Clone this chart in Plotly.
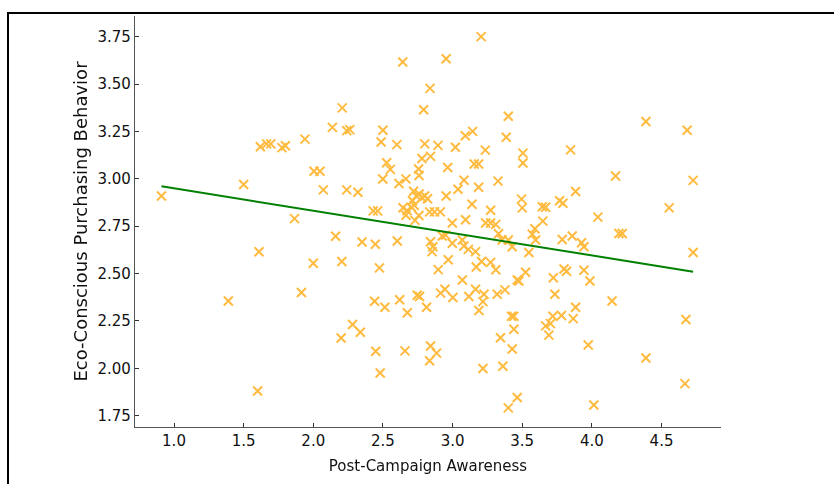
import plotly.graph_objects as go

# Post-Campaign Awareness (x) and Eco-Conscious Purchasing Behavior (y)
awareness = [
    0.91, 1.39, 1.50, 1.60, 1.61, 1.62, 1.665, 1.695, 1.775, 1.80,
    1.865, 1.915, 1.94, 2.00, 2.005, 2.048, 2.072, 2.137, 2.16, 2.20,
    2.205, 2.208, 2.24, 2.262, 2.24, 2.282, 2.32, 2.338, 2.35, 2.43,
    2.462, 2.445, 2.44, 2.448, 2.475, 2.48,
    3.205, 2.642, 2.954, 2.838, 2.792, 2.50, 2.487, 2.60, 2.80, 2.895,
    3.02, 3.091, 3.144, 3.235, 2.527, 2.553, 2.499, 2.78, 2.842, 2.756,
    2.759, 2.965, 3.155, 3.187, 2.615, 2.665, 3.082, 3.039, 3.187, 3.326,
    2.72, 2.74, 2.76, 2.78, 2.80, 2.82, 2.712, 2.725, 2.954, 3.139,
    2.644, 2.673, 2.665, 2.705, 2.758, 2.73, 2.835, 2.87, 2.912, 2.998,
    3.093, 3.273, 3.237, 3.273, 2.95, 2.603, 2.842, 2.858, 2.853, 2.926,
    2.998, 3.07, 3.081, 3.113, 3.165, 3.208, 3.17, 3.273, 2.969, 2.897,
    3.07, 2.945, 2.914, 3.002, 2.746, 2.763, 2.62, 2.514, 2.675, 2.813,
    3.117, 3.165, 3.225, 3.218, 3.189, 2.658, 2.842, 2.885, 2.835, 3.218,
    3.31, 3.33, 3.31,
    3.40, 3.385, 3.505, 3.505, 3.847, 4.17, 3.883, 3.495, 3.50, 3.644,
    3.668, 3.768, 3.792, 4.043, 3.648, 3.591, 3.572, 3.596, 3.356, 3.40,
    3.428, 3.548, 3.787, 3.859, 3.926, 3.943, 3.524, 3.464, 3.476, 3.80,
    3.818, 3.943, 3.986, 3.723, 3.734, 3.32, 3.376, 4.145, 3.423, 3.44,
    3.44, 3.344, 3.428, 3.883, 3.866, 3.782, 3.72, 3.703, 3.668, 3.691,
    3.974, 3.361, 3.464, 3.40, 4.014,
    4.388, 4.684, 4.727, 4.555, 4.194, 4.218, 4.727, 4.675, 4.388, 4.668,
]
purchasing = [
    2.91, 2.355, 2.97, 1.88, 2.615, 3.17, 3.185, 3.185, 3.165, 3.175,
    2.79, 2.40, 3.21, 2.555, 3.04, 3.04, 2.942, 3.272, 2.697, 2.16,
    2.564, 3.375, 3.255, 3.26, 2.942, 2.231, 2.929, 2.19, 2.667, 2.831,
    2.831, 2.655, 2.354, 2.09, 2.53, 1.975,
    3.751, 3.617, 3.634, 3.478, 3.365, 3.257, 3.195, 3.181, 3.185, 3.177,
    3.167, 3.228, 3.251, 3.152, 3.085, 3.05, 2.999, 3.108, 3.119, 3.052,
    3.018, 3.06, 3.079, 3.079, 2.976, 3.0, 2.993, 2.945, 2.956, 2.988,
    2.935, 2.91, 2.92, 2.90, 2.91, 2.895, 2.885, 2.86, 2.91, 2.866,
    2.848, 2.833, 2.808, 2.85, 2.807, 2.781, 2.826, 2.826, 2.826, 2.767,
    2.784, 2.834, 2.767, 2.767, 2.703, 2.672, 2.668, 2.642, 2.616, 2.698,
    2.66, 2.677, 2.646, 2.628, 2.616, 2.564, 2.535, 2.559, 2.573, 2.521,
    2.466, 2.417, 2.397, 2.374, 2.386, 2.379, 2.362, 2.322, 2.293, 2.322,
    2.379, 2.417, 2.391, 2.352, 2.305, 2.092, 2.118, 2.08, 2.04, 1.999,
    2.76, 2.71, 2.52,
    3.331, 3.22, 3.136, 3.084, 3.153, 3.015, 2.933, 2.893, 2.847, 2.853,
    2.85, 2.885, 2.871, 2.798, 2.777, 2.737, 2.708, 2.677, 2.677, 2.677,
    2.642, 2.611, 2.68, 2.698, 2.663, 2.642, 2.507, 2.466, 2.461, 2.524,
    2.512, 2.518, 2.461, 2.478, 2.391, 2.391, 2.414, 2.355, 2.275, 2.275,
    2.206, 2.161, 2.102, 2.322, 2.262, 2.279, 2.275, 2.236, 2.224, 2.175,
    2.123, 2.011, 1.846, 1.791, 1.806,
    3.303, 3.257, 2.992, 2.847, 2.712, 2.712, 2.611, 2.258, 2.054, 1.919,
]

# fitted regression line parameters
fit_intercept = 3.068
fit_slope = -0.118
fit_x = [min(awareness), max(awareness)]
fit_y = [fit_intercept + fit_slope * v for v in fit_x]

x_title = "Post-Campaign Awareness"
y_title = "Eco-Conscious Purchasing Behavior"

fig = go.Figure()
fig.add_trace(go.Scatter(
    x=awareness, y=purchasing, mode="markers",
    marker=dict(symbol="x-thin", size=9, color="orange",
                line=dict(width=2, color="orange")),
    opacity=0.75, hoverinfo="skip",
))
fig.add_trace(go.Scatter(
    x=fit_x, y=fit_y, mode="lines",
    line=dict(color="green", width=2), hoverinfo="skip",
))

L, R, T, B = 135, 113, 16, 50
W, H = 834, 484
pw, ph = W - L - R, H - T - B

def px_x(p):
    return (p - L) / pw

def px_y(p):
    return (H - B - p) / ph

fig.add_shape(type="rect", xref="paper", yref="paper",
              x0=px_x(8), x1=px_x(860), y0=px_y(500), y1=px_y(13),
              line=dict(color="black", width=2), fillcolor="rgba(0,0,0,0)",
              layer="above")

axis_common = dict(
    showline=True, linecolor="#555555", linewidth=1.3,
    ticks="inside", ticklen=4, tickwidth=1, tickcolor="#333333",
    showgrid=False, zeroline=False, mirror=False,
    tickfont=dict(family="DejaVu Sans", size=15, color="#111111"),
)

fig.update_xaxes(range=[0.72, 4.927], tick0=1.0, dtick=0.5, tickformat=".1f",
                 title=dict(text=x_title, standoff=11,
                            font=dict(family="DejaVu Sans", size=15, color="#111111")),
                 **axis_common)
fig.update_yaxes(range=[1.69, 3.86], tick0=1.75, dtick=0.25, tickformat=".2f",
                 title=dict(text=y_title, standoff=5,
                            font=dict(family="DejaVu Sans", size=18, color="#111111")),
                 **axis_common)

fig.update_layout(
    width=W, height=H,
    margin=dict(l=L, r=R, t=T, b=B),
    plot_bgcolor="white", paper_bgcolor="white",
    showlegend=False,
    font=dict(family="DejaVu Sans"),
)

fig.write_html("out.html")
